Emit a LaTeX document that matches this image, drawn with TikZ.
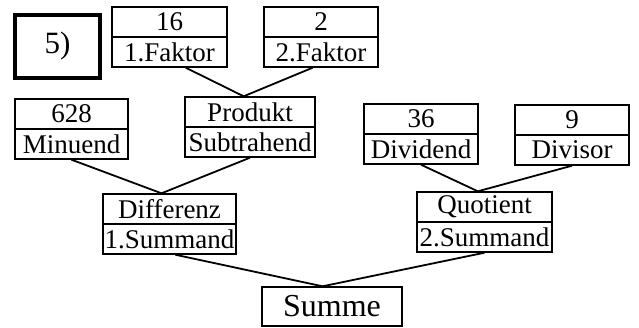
\documentclass[tikz,border=0pt]{standalone}
\usepackage{fontspec}
\setmainfont{Liberation Serif}
\begin{document}
\begin{tikzpicture}[x=1pt,y=-1pt,
		cell/.style={draw,line width=1.4pt,minimum height=30,inner sep=0pt,font=\fontsize{27}{30}\selectfont},
		kante/.style={-,color=black,line width=1.8pt}]
			\useasboundingbox (0,0) rectangle (639,327);
			\node[draw,line width=4.5pt,minimum width=85,minimum height=63,inner sep=0pt,font=\fontsize{31}{34}\selectfont] (N) at (57.5,46.5) {5)};
			\node[cell,minimum width=115] (A) at (169.5,22) {16};
			\node[cell,minimum width=115] (AA) at (169.5,52) {1.Faktor};
			\node[cell,minimum width=114] (B) at (321,22) {2};
			\node[cell,minimum width=114] (BB) at (321,52) {2.Faktor};
			\node[cell,minimum width=130] (P) at (250,112) {Produkt};
			\node[cell,minimum width=130] (PP) at (250,142) {Subtrahend};
			\node[cell,minimum width=113] (C) at (71.5,114) {628};
			\node[cell,minimum width=113] (CC) at (71.5,144) {Minuend};
			\node[cell,minimum width=114] (D) at (421,119) {36};
			\node[cell,minimum width=114] (DD) at (421,149) {Dividend};
			\node[cell,minimum width=114] (E) at (572,120) {9};
			\node[cell,minimum width=114] (EE) at (572,150) {Divisor};
			\node[cell,minimum width=133] (R) at (169.5,209) {Differenz};
			\node[cell,minimum width=133] (RR) at (169.5,239) {1.Summand};
			\node[cell,minimum width=135] (Q) at (484.5,207) {Quotient};
			\node[cell,minimum width=135] (QQ) at (484.5,237) {2.Summand};
			\node[cell,minimum width=140,minimum height=39,font=\fontsize{32}{36}\selectfont] (S) at (332,306.5) {Summe};
	
			\draw[kante] (AA.-44)--(P.112);
			\draw[kante] (BB.-118)--(P.112);
			\draw[kante] (CC.south)--(R.117);
			\draw[kante] (PP.south)--(R.117);
			\draw[kante] (DD.south)--(Q.113);
			\draw[kante] (EE.south)--(Q.113);
			\draw[kante] (RR.-70)--(S.115);
			\draw[kante] (QQ.south)--(S.115);
		\end{tikzpicture}
\end{document}
